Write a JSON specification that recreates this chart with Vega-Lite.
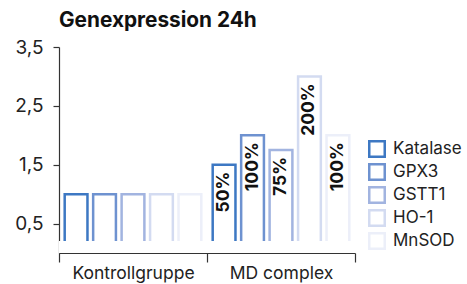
{
  "$schema": "https://vega.github.io/schema/vega-lite/v6.json",
  "width": 296,
  "height": 206,
  "autosize": {"type": "none"},
  "padding": {"left": 59, "top": 47, "right": 112, "bottom": 31},
  "background": "white",
  "config": {
    "font": "Inter",
    "view": {"stroke": null},
    "axis": {"domainColor": "#333333", "tickColor": "#333333", "labelColor": "#222222", "labelFont": "Inter", "grid": false, "zindex": 1}
  },
  "title": {
    "text": "Genexpression 24h",
    "anchor": "start",
    "frame": "group",
    "fontSize": 20.8,
    "fontWeight": "bold",
    "font": "Inter",
    "color": "#111111",
    "offset": 6
  },
  "data": {
    "values": [
      {"group": "Kontrollgruppe", "gene": "Katalase", "value": 1.0, "label": ""},
      {"group": "Kontrollgruppe", "gene": "GPX3", "value": 1.0, "label": ""},
      {"group": "Kontrollgruppe", "gene": "GSTT1", "value": 1.0, "label": ""},
      {"group": "Kontrollgruppe", "gene": "HO-1", "value": 1.0, "label": ""},
      {"group": "Kontrollgruppe", "gene": "MnSOD", "value": 1.0, "label": ""},
      {"group": "MD complex", "gene": "Katalase", "value": 1.5, "label": "50%"},
      {"group": "MD complex", "gene": "GPX3", "value": 2.0, "label": "100%"},
      {"group": "MD complex", "gene": "GSTT1", "value": 1.75, "label": "75%"},
      {"group": "MD complex", "gene": "HO-1", "value": 3.0, "label": "200%"},
      {"group": "MD complex", "gene": "MnSOD", "value": 2.0, "label": "100%"}
    ]
  },
  "layer": [
    {
      "mark": {"type": "bar", "fill": "white", "strokeWidth": 2.5},
      "encoding": {
        "x": {
          "field": "group",
          "type": "nominal",
          "scale": {"paddingInner": 0, "paddingOuter": 0},
          "axis": {"title": null, "labelAngle": 0, "labelFontSize": 17.5, "tickBand": "extent", "tickSize": 9, "labelPadding": 2, "domainWidth": 1.2, "tickWidth": 1.2}
        },
        "xOffset": {
          "field": "gene",
          "type": "nominal",
          "sort": ["Katalase", "GPX3", "GSTT1", "HO-1", "MnSOD"],
          "scale": {"paddingInner": 0.2, "paddingOuter": 0.2}
        },
        "y": {
          "field": "value",
          "type": "quantitative",
          "scale": {"domain": [0, 3.5], "nice": false},
          "axis": {
            "title": null,
            "values": [0.5, 1, 1.5, 2, 2.5, 3, 3.5],
            "labelExpr": "datum.value % 1 == 0.5 ? replace(format(datum.value, '.1f'), '.', ',') : ''",
            "labelFontSize": 19,
            "tickSize": 6,
            "labelPadding": 10,
            "domainWidth": 1.2,
            "tickWidth": 1.2
          }
        },
        "y2": {"datum": 0.1},
        "stroke": {
          "field": "gene",
          "type": "nominal",
          "sort": ["Katalase", "GPX3", "GSTT1", "HO-1", "MnSOD"],
          "scale": {"domain": ["Katalase", "GPX3", "GSTT1", "HO-1", "MnSOD"], "range": ["#3d78c3", "#6e92d0", "#a2b4e0", "#d3dbf1", "#eceff9"]},
          "legend": {
            "title": null,
            "orient": "none",
            "legendX": 309,
            "legendY": 93,
            "symbolType": "square",
            "symbolSize": 240,
            "symbolStrokeWidth": 2.5,
            "symbolFillColor": "white",
            "labelFontSize": 17,
            "labelFont": "Inter",
            "labelColor": "#222222",
            "rowPadding": -3,
            "labelOffset": 7
          }
        }
      }
    },
    {
      "mark": {"type": "bar", "fill": "white", "stroke": null, "width": {"band": 1}},
      "encoding": {
        "x": {"field": "group", "type": "nominal"},
        "y": {"datum": 0.2},
        "y2": {"datum": 0}
      }
    },
    {
      "mark": {"type": "text", "angle": -90, "align": "right", "baseline": "middle", "dx": -7, "fontSize": 17.5, "fontWeight": "bold", "font": "Inter", "color": "#111111"},
      "encoding": {
        "x": {"field": "group", "type": "nominal"},
        "xOffset": {"field": "gene", "type": "nominal", "sort": ["Katalase", "GPX3", "GSTT1", "HO-1", "MnSOD"]},
        "y": {"field": "value", "type": "quantitative"},
        "text": {"field": "label"}
      }
    }
  ]
}
